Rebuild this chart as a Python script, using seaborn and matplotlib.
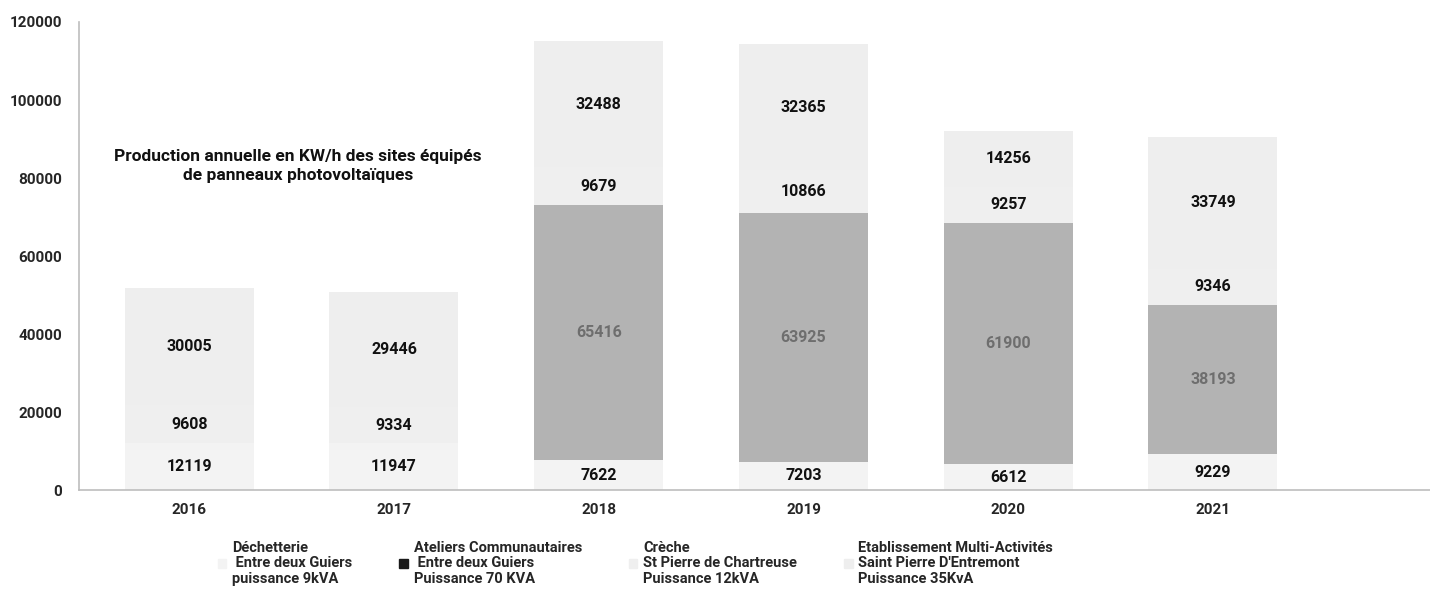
import matplotlib
matplotlib.use("Agg")
import matplotlib.pyplot as plt
import matplotlib.patches as mpatches
import pandas as pd
import seaborn as sns

years = ["2016", "2017", "2018", "2019", "2020", "2021"]
dechetterie = [12119, 11947, 7622, 7203, 6612, 9229]
ateliers = [0, 0, 65416, 63925, 61900, 38193]
creche = [9608, 9334, 9679, 10866, 9257, 9346]
etablissement = [30005, 29446, 32488, 32365, 14256, 33749]

series_names = [
    "Déchetterie\n Entre deux Guiers\npuissance 9kVA",
    "Ateliers Communautaires\n Entre deux Guiers\nPuissance 70 KVA",
    "Crèche\nSt Pierre de Chartreuse\nPuissance 12kVA",
    "Etablissement Multi-Activités\nSaint Pierre D'Entremont\nPuissance 35KvA",
]
colors = ["#f3f3f3", "#b3b3b3", "#efefef", "#eeeeee"]
label_colors = ["#111111", "#6e6e6e", "#111111", "#111111"]

sns.set_style("white")
plt.rcParams["font.family"] = ["Roboto", "DejaVu Sans"]
plt.rcParams["font.weight"] = "bold"

df = pd.DataFrame({"year": years, "s0": dechetterie, "s1": ateliers,
                   "s2": creche, "s3": etablissement})
cols = ["s0", "s1", "s2", "s3"]
cum = df[cols].cumsum(axis=1)

fig = plt.figure(figsize=(14.3, 6.11), dpi=100)
ax = fig.add_axes([0.055, 0.198, 0.945, 0.766])

# stacked bars: cumulative totals drawn from top to bottom
for i in reversed(range(4)):
    sns.barplot(x=df["year"], y=cum[cols[i]], color=colors[i], width=0.63,
                saturation=1, ax=ax, edgecolor="none")

# value labels in each segment
for j in range(len(years)):
    base = 0
    for i, c in enumerate(cols):
        v = df.loc[j, c]
        if v > 0:
            ax.text(j, base + v * 0.5, f"{v}", ha="center", va="center",
                    fontsize=11.5, fontweight="bold", color=label_colors[i])
        base += v

ax.set_ylim(0, 120000)
ax.set_xlim(-0.54, 6.06)
ax.set_yticks(range(0, 120001, 20000))
ax.set_yticklabels([str(t) for t in range(0, 120001, 20000)])
ax.set_xlabel("")
ax.set_ylabel("")
ax.tick_params(axis="both", length=0, labelsize=11)
ax.tick_params(axis="x", pad=9)
ax.tick_params(axis="y", pad=12)
for lab in ax.get_xticklabels() + ax.get_yticklabels():
    lab.set_fontweight("bold")
sns.despine(ax=ax, top=True, right=True)
for side in ["left", "bottom"]:
    ax.spines[side].set_color("#bdbdbd")
    ax.spines[side].set_linewidth(1.2)

ax.text(0.53, 83000, "Production annuelle en KW/h des sites équipés\nde panneaux photovoltaïques",
        ha="center", va="center", fontsize=12.5, fontweight="bold", color="#111111",
        linespacing=1.35)

handles = [mpatches.Patch(color=c) for c in colors]
handles[1] = mpatches.Patch(color="#1a1a1a")
leg = fig.legend(handles, series_names, loc="upper left", bbox_to_anchor=(0.143, 0.136),
                 ncol=4, frameon=False, handlelength=0.6, handleheight=0.6,
                 handletextpad=0.4, columnspacing=3.2, labelspacing=0.2,
                 prop={"weight": "bold", "size": 10.5})
for t in leg.get_texts():
    t.set_linespacing(1.12)

fig.savefig("out.png", dpi=100)
